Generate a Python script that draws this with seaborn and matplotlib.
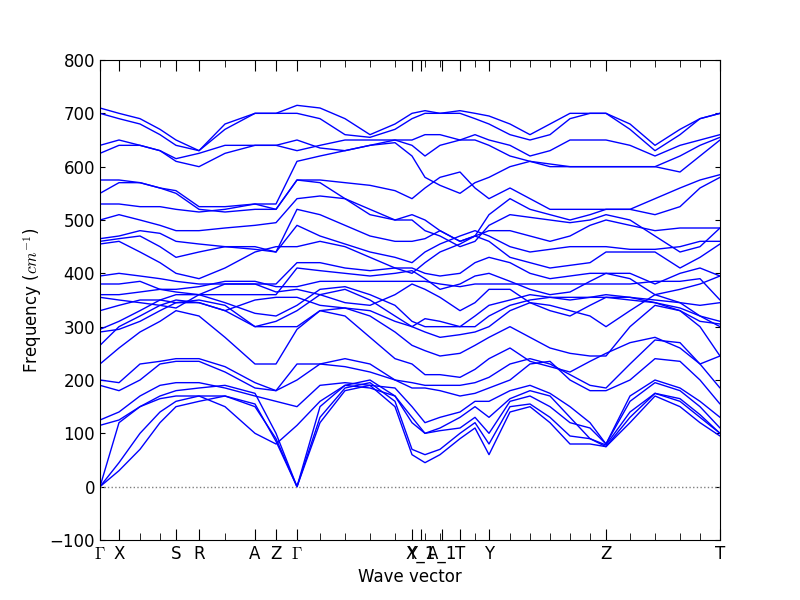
import matplotlib
matplotlib.use("Agg")
import matplotlib.pyplot as plt
import seaborn as sns
import pandas as pd

sns.set_style("ticks")
plt.rcParams['font.family'] = ['DejaVu Sans']
plt.rcParams['mathtext.fontset'] = 'cm'
plt.rcParams['text.color'] = 'black'
plt.rcParams['axes.labelcolor'] = 'black'
plt.rcParams['xtick.color'] = 'black'
plt.rcParams['ytick.color'] = 'black'

qpos = [0, 19, 40, 60, 76, 99, 125, 155, 176, 197, 220, 245, 270, 295, 312, 325, 340, 360, 375,
        389, 410, 430, 450, 470, 490, 506, 530, 555, 580, 600, 620]
tick_pos = [0, 19, 76, 99, 155, 176, 197, 312, 321, 342, 360, 389, 506, 620]
tick_labels = [r'$\Gamma$', 'X', 'S', 'R', 'A', 'Z', r'$\Gamma$', 'Y', 'X_1', 'A_1', 'T', 'Y', 'Z', 'T']

bands = [
 [0,30,70,120,150,160,170,150,90,0,120,180,190,150,60,45,60,90,110,60,140,150,120,80,80,75,120,170,150,120,95],
 [0,45,100,140,160,170,170,155,85,0,130,185,195,160,70,60,70,100,120,80,150,155,130,95,90,78,140,175,160,130,100],
 [0,120,150,170,180,185,190,175,100,0,150,190,200,170,120,100,105,110,130,100,160,170,150,120,110,80,160,195,180,150,110],
 [115,125,150,165,170,170,150,100,80,115,160,190,185,170,130,100,110,130,150,130,165,180,170,130,90,75,130,175,165,135,100],
 [125,140,170,190,195,195,185,170,160,150,190,195,190,185,150,120,130,140,160,160,180,190,175,150,120,80,170,200,185,160,130],
 [190,180,200,230,235,235,215,185,180,200,230,240,230,200,185,185,180,170,175,185,200,230,235,200,180,180,200,240,235,200,155],
 [200,195,230,235,240,240,225,195,180,230,230,225,215,200,195,190,190,190,195,205,230,240,230,210,190,185,230,275,270,230,185],
 [230,260,290,310,330,320,280,230,230,295,330,320,280,240,230,210,210,205,220,240,260,235,225,215,235,250,270,280,260,230,245],
 [265,300,320,340,350,345,330,300,300,300,330,335,320,290,265,255,245,250,265,280,300,280,260,250,245,245,300,340,330,300,245],
 [290,295,310,330,345,350,340,300,310,330,360,370,350,320,300,290,280,285,290,300,330,345,340,330,320,300,330,360,345,320,300],
 [295,310,330,350,360,360,345,325,320,340,370,375,360,340,310,300,300,300,300,320,340,350,355,350,355,360,355,345,330,310,305],
 [330,340,350,350,345,345,330,350,355,355,340,335,330,310,300,315,310,300,320,340,350,360,355,355,355,355,350,345,335,320,310],
 [355,350,345,340,335,360,380,380,365,370,360,345,340,360,380,370,355,330,345,370,370,345,330,320,340,355,355,350,345,340,345],
 [360,360,365,370,370,375,385,385,375,375,385,385,385,385,385,385,380,375,380,380,380,380,380,380,380,380,380,385,385,390,350],
 [380,380,385,370,365,360,360,360,360,410,405,400,395,400,405,390,370,380,395,400,385,370,360,365,385,400,390,360,370,380,395],
 [395,400,395,390,385,380,380,380,380,420,420,410,405,410,410,400,395,400,420,430,420,400,390,395,400,400,400,380,400,410,395],
 [455,460,440,420,400,390,410,440,450,450,460,450,430,410,400,420,440,455,470,460,430,420,410,415,420,440,440,440,410,430,455],
 [460,465,470,450,430,440,450,450,440,490,470,455,440,430,420,440,455,470,480,470,450,440,445,450,450,450,445,445,450,460,460],
 [465,470,480,475,460,455,450,445,440,520,510,490,470,460,460,465,480,460,470,480,480,470,460,470,490,500,490,480,485,485,485],
 [500,510,500,490,480,480,485,490,495,540,545,540,520,500,500,480,470,450,460,490,510,505,500,495,500,510,500,470,440,450,485],
 [530,530,525,525,520,515,520,530,520,575,570,540,510,500,510,500,480,460,470,510,540,520,510,500,510,520,520,510,525,560,580],
 [550,570,570,560,550,520,515,520,520,575,575,570,565,555,540,560,580,590,560,540,560,540,520,520,520,520,520,540,560,575,585],
 [575,575,570,560,555,525,525,530,530,610,620,630,640,645,620,580,565,550,570,580,600,610,605,600,600,600,600,600,590,620,650],
 [625,640,640,630,610,600,625,640,640,630,640,650,650,650,640,620,640,650,650,640,620,610,600,600,600,600,600,600,620,640,655],
 [640,650,640,630,615,625,640,640,640,650,635,630,640,650,650,660,660,650,660,650,640,620,630,650,650,650,640,620,640,650,660],
 [700,690,680,660,640,630,670,700,700,700,690,660,655,670,690,700,700,700,690,680,660,650,660,690,700,700,670,630,660,690,700],
 [710,700,690,670,650,630,680,700,700,715,710,690,660,680,700,705,700,705,700,695,680,660,680,700,700,700,680,640,670,690,700],
]

rows = []
for b, vals in enumerate(bands):
    for q, f in zip(qpos, vals):
        rows.append({"q": q, "freq": f, "band": b})
df = pd.DataFrame(rows)

fig = plt.figure(figsize=(8, 6), dpi=100, facecolor='white')
ax = fig.add_axes([0.125, 0.1, 0.775, 0.8])
sns.lineplot(data=df, x="q", y="freq", units="band", estimator=None, color='blue',
             linewidth=1, ax=ax, legend=False, sort=False)
ax.axhline(0, color='gray', linestyle=':', linewidth=1)
ax.set_xlim(0, 620)
ax.set_ylim(-100, 800)
ax.set_xticks(tick_pos)
ax.set_xticklabels(tick_labels, fontsize=12)
ax.set_xticks(qpos, minor=True)
ax.tick_params(axis='both', which='both', direction='in', top=True, right=True, labelsize=12)
ax.tick_params(axis='x', which='major', length=8)
ax.tick_params(axis='x', which='minor', length=5)
ax.set_yticks(range(-100, 801, 100))
ax.set_xlabel("Wave vector", fontsize=12)
ax.set_ylabel(r"Frequency ($cm^{-1}$)", fontsize=12)
for s in ax.spines.values():
    s.set_color('black')
fig.savefig("out.png", dpi=100, facecolor='white')
